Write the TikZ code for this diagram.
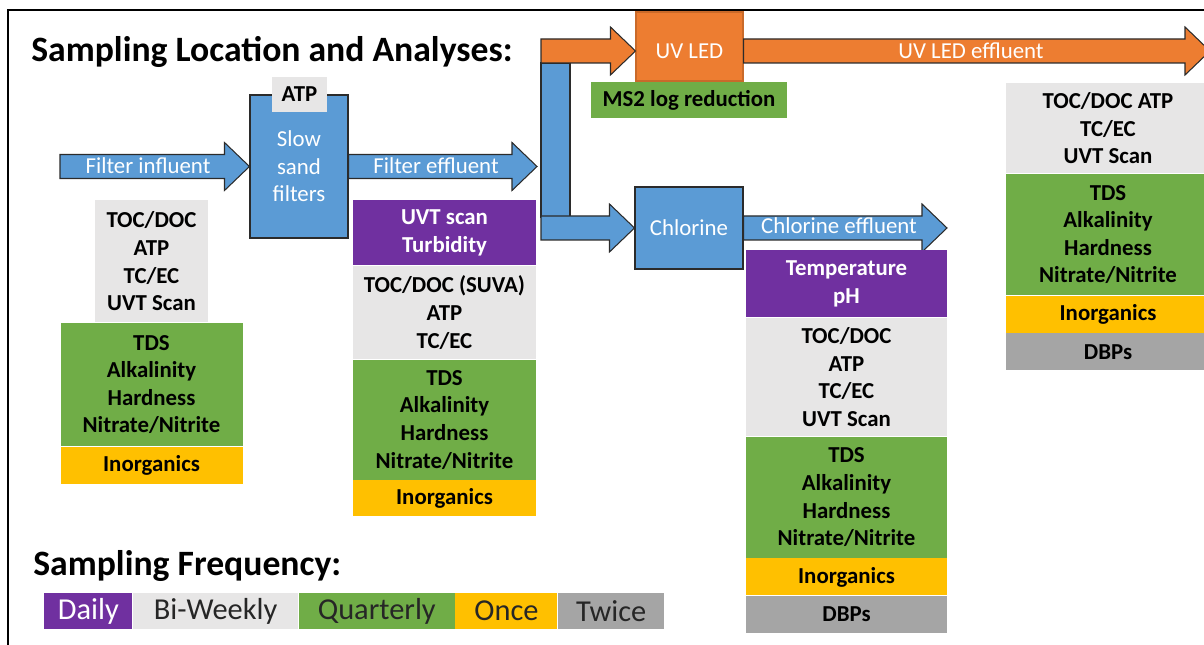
\documentclass[tikz,border=0pt]{standalone}
\usepackage{fontspec}
\setmainfont{Carlito}
\usetikzlibrary{positioning,calc}
\definecolor{pipeblue}{HTML}{5B9BD5}
\definecolor{ledorange}{HTML}{ED7D31}
\definecolor{dailypurple}{HTML}{7030A0}
\definecolor{weeklygray}{HTML}{E7E6E6}
\definecolor{quartergreen}{HTML}{70AD47}
\definecolor{onceyellow}{HTML}{FFC000}
\definecolor{twicegray}{HTML}{A5A5A5}
\definecolor{edge}{HTML}{2B2B2B}

\newcommand{\pxu}{0.02cm}
\newcommand{\tagfont}{\fontsize{13}{15.7}\selectfont}
\newcommand{\flowarrow}[3]{%
  \draw[#1] ($(#2)+(0,-12)$) -- ($(#3)+(-25,-12)$) -- ($(#3)+(-25,-24)$) -- (#3)
    -- ($(#3)+(-25,24)$) -- ($(#3)+(-25,12)$) -- ($(#2)+(0,12)$) -- cycle;}

\tikzset{
  boxwh/.style 2 args={minimum width=#1*\pxu, minimum height=#2*\pxu},
  assay/.style={font=\tagfont\bfseries, align=center, inner sep=0pt, text=black},
  daily/.style={assay, fill=dailypurple, text=white},
  biweekly/.style={assay, fill=weeklygray},
  quarterly/.style={assay, fill=quartergreen},
  once/.style={assay, fill=onceyellow},
  twice/.style={assay, fill=twicegray},
  stage/.style={draw=edge, line width=0.6pt, text=white, font=\tagfont, align=center, inner sep=0pt},
  bluepipe/.style={fill=pipeblue, draw=edge, line width=0.6pt},
  orangepipe/.style={fill=ledorange, draw=edge, line width=0.6pt},
  flowlabel/.style={text=white, font=\tagfont, inner sep=0pt},
  heading/.style={font=\fontsize{20.3}{24}\selectfont\bfseries, anchor=base west, inner sep=0pt},
  freqkey/.style={font=\fontsize{17.3}{20}\selectfont, text=black!85, inner sep=0pt, boxwh={#1}{36}},
}

\begin{document}
\begin{tikzpicture}[x=\pxu, y=-\pxu]
  \clip (0,0) rectangle (1204,645);
  \draw[line width=1.1pt] (8,645) -- (8,10) -- (1204,10);

  \node[heading] (titleA) at (31,62) {Sampling Location and Analyses:};
  \node[heading] (titleB) at (33,575) {Sampling Frequency:};

  \coordinate (inflow) at (60,166.5);
  \coordinate (ssfout) at (537,166.5);
  \coordinate (split) at (541,51);
  \coordinate (tee) at (541,228);
  \coordinate (uvout) at (1210,51);
  \coordinate (clout) at (947,228);

  \node[stage, fill=pipeblue, boxwh={98}{143}] (ssf) at (299,166.5) {Slow\\sand\\filters};
  \node[biweekly, boxwh={55}{35}] (ssfatp) at (299.5,94.5) {ATP};
  \node[stage, fill=ledorange, draw=ledorange!85!black, boxwh={107}{69}] (uvled) at (689.5,46.5) {};
  \node[flowlabel] (uvledtxt) at (uvled.center |- split) {UV LED};
  \node[quarterly, boxwh={196}{36}] (ms2) at (689,100) {MS2 log reduction};
  \node[stage, fill=pipeblue, boxwh={108}{82}] (chlor) at (689,228) {Chlorine};
  \node[bluepipe, boxwh={29}{154}, inner sep=0pt] (riser) at (555.5,140) {};

  \coordinate (ledin) at (uvled.west |- split);
  \coordinate (ledout) at (uvled.east |- split);

  \flowarrow{bluepipe}{inflow}{ssf.west}
  \flowarrow{bluepipe}{ssf.east}{ssfout}
  \flowarrow{orangepipe}{split}{ledin}
  \flowarrow{bluepipe}{tee}{chlor.west}
  \flowarrow{orangepipe}{ledout}{uvout}
  \flowarrow{bluepipe}{chlor.east}{clout}

  \node[flowlabel] (inflowtxt) at (148,166) {Filter influent};
  \node[flowlabel] (ssfouttxt) at (436,166) {Filter effluent};
  \node[flowlabel] (uvouttxt) at (971,51) {UV LED effluent};
  \node[flowlabel] (clouttxt) at (839,226) {Chlorine effluent};

  \node[biweekly, boxwh={113}{122}, anchor=north] (infbw) at (151.5,200) {TOC/DOC\\ATP\\TC/EC\\UVT Scan};
  \node[quarterly, boxwh={182}{123}, below=0pt of infbw] (infq) {TDS\\Alkalinity\\Hardness\\Nitrate/Nitrite};
  \node[once, boxwh={182}{37}, below=0pt of infq] (info) {Inorganics};

  \node[daily, boxwh={183}{65}, anchor=north] (effd) at (444.5,200) {UVT scan\\Turbidity};
  \node[biweekly, boxwh={183}{93}, below=0pt of effd] (effbw) {TOC/DOC (SUVA)\\ATP\\TC/EC};
  \node[quarterly, boxwh={183}{120}, below=0pt of effbw] (effq) {TDS\\Alkalinity\\Hardness\\Nitrate/Nitrite};
  \node[once, boxwh={183}{36}, below=0pt of effq] (effo) {Inorganics};

  \node[daily, boxwh={201}{67}, anchor=north] (cld) at (846.5,250) {Temperature\\pH};
  \node[biweekly, boxwh={201}{118}, below=0pt of cld] (clbw) {TOC/DOC\\ATP\\TC/EC\\UVT Scan};
  \node[quarterly, boxwh={201}{121}, below=0pt of clbw] (clq) {TDS\\Alkalinity\\Hardness\\Nitrate/Nitrite};
  \node[once, boxwh={201}{37}, below=0pt of clq] (clo) {Inorganics};
  \node[twice, boxwh={201}{37}, below=0pt of clo] (clt) {DBPs};

  \node[biweekly, boxwh={204}{90}, anchor=north] (uvbw) at (1108,83) {TOC/DOC ATP\\TC/EC\\UVT Scan};
  \node[quarterly, boxwh={204}{121}, below=0pt of uvbw] (uvq) {TDS\\Alkalinity\\Hardness\\Nitrate/Nitrite};
  \node[once, boxwh={204}{37}, below=0pt of uvq] (uvo) {Inorganics};
  \node[twice, boxwh={204}{37}, below=0pt of uvo] (uvt) {DBPs};

  \node[freqkey={88}, fill=dailypurple, text=white, anchor=west] (kdaily) at (44,611) {Daily};
  \node[freqkey={165}, fill=weeklygray, right=0pt of kdaily] (kweekly) {Bi-Weekly};
  \node[freqkey={156}, fill=quartergreen, right=0pt of kweekly] (kquarter) {Quarterly};
  \node[freqkey={102}, fill=onceyellow, right=0pt of kquarter] (konce) {Once};
  \node[freqkey={106}, fill=twicegray, right=0pt of konce] (ktwice) {Twice};
\end{tikzpicture}
\end{document}
